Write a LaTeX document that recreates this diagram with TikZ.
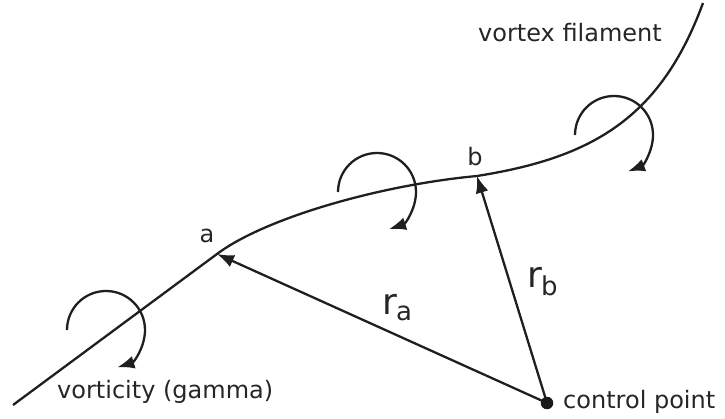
\documentclass[tikz,border=0pt]{standalone}
\usepackage{fontspec}
\setmainfont{DejaVu Sans}
\usetikzlibrary{arrows.meta}
\tikzset{
  line/.style={line width=2.3pt, color=black!88},
  tipline/.style={line, -{Latex[length=17pt,width=13pt]}},
  lbl/.style={inner sep=0pt, font=\fontsize{24}{28}\selectfont, text=black!85},
}
\begin{document}
\begin{tikzpicture}[x=1pt,y=-1pt]
\useasboundingbox (0,0) rectangle (725,419);
% key points
\coordinate (s) at (13,405);
\coordinate (a) at (217,254);
\coordinate (b) at (477,176);
\coordinate (e) at (703,3);
\coordinate (cp) at (547,403);
% filament
\draw[line] (s) -- (a) .. controls (265,218) and (380,185) .. (b)
  .. controls (590,158) and (660,120) .. (e);
% vortex loops
\draw[tipline] (67,330) arc[start angle=180, end angle=433, radius=39];
\draw[tipline] (338,192) arc[start angle=180, end angle=432, radius=39];
\draw[tipline] (575,135) arc[start angle=180, end angle=429, radius=39];
% position vectors
\draw[tipline] (cp) -- (a);
\draw[tipline] (cp) -- (b);
\node[circle, fill=black!90, inner sep=0pt, minimum size=12.5pt] (dot) at (cp) {};
% labels
\node[lbl, anchor=base] (la) at (207,243) {a};
\node[lbl, anchor=base] (lb) at (475,166) {b};
\node[lbl, anchor=base west] (ra) at (382,315) {\fontsize{36}{40}\selectfont r\kern-1pt\raisebox{-6pt}{\fontsize{26}{30}\selectfont a}};
\node[lbl, anchor=base west] (rb) at (527,288) {\fontsize{36}{40}\selectfont r\kern-1pt\raisebox{-8pt}{\fontsize{26}{30}\selectfont b}};
\node[lbl, anchor=base west] (vf) at (478,42) {vortex filament};
\node[lbl, anchor=base west] (vg) at (57,398) {vorticity (gamma)};
\node[lbl, anchor=base west] (cpl) at (563,408) {control point};
\end{tikzpicture}
\end{document}
